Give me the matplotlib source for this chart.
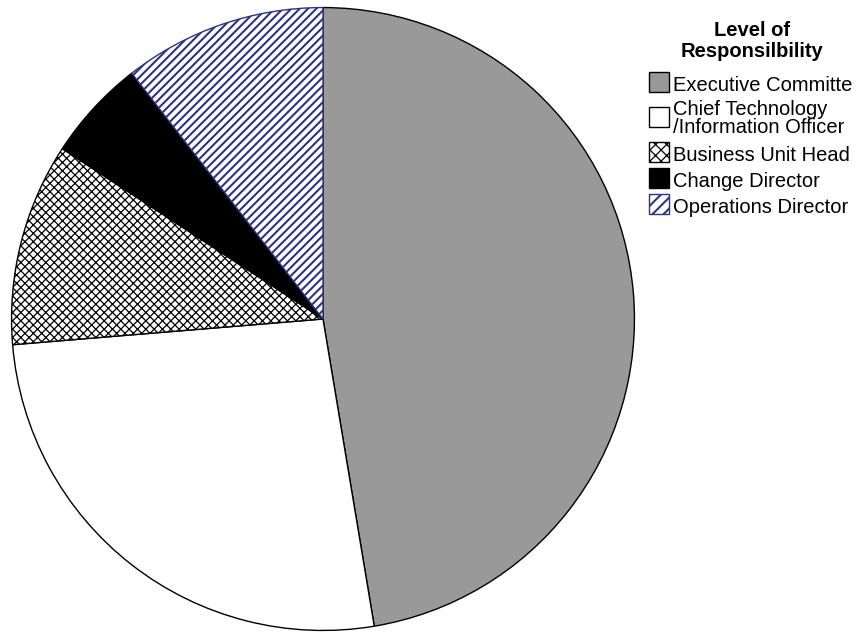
import matplotlib
matplotlib.use("Agg")
import matplotlib.pyplot as plt
from matplotlib.patches import Rectangle

plt.rcParams['font.family'] = ['Liberation Sans', 'DejaVu Sans']
plt.rcParams['hatch.linewidth'] = 1.3

labels = ["Executive Committe", "Chief Technology\n/Information Officer",
          "Business Unit Head", "Change Director", "Operations Director"]
values = [9, 5, 2, 1, 2]
facecolors = ["#999999", "#ffffff", "#ffffff", "#000000", "#ffffff"]
edgecolors = ["#000000", "#000000", "#000000", "#000000", "#2e3382"]
hatches = [None, None, "xxxx", None, "////"]
legend_hatches = [None, None, "xxx", None, "///"]
hatch_widths = [1.0, 1.0, 0.9, 1.0, 1.5]
title_lines = ["Level of", "Responsilbility"]

W, H = 858, 632
fig = plt.figure(figsize=(W / 100, H / 100), dpi=100)
cx, cy, r = 323, 319, 313
ax = fig.add_axes([(cx - r) / W, (H - cy - r) / H, 2 * r / W, 2 * r / H])


def style_hatch(patch, hatch, width):
    if hatch:
        patch.set_hatch(hatch)
        if hasattr(patch, "set_hatch_linewidth"):
            patch.set_hatch_linewidth(width)


wedges, _ = ax.pie(values, startangle=90, counterclock=False, radius=1,
                   colors=facecolors, wedgeprops=dict(linewidth=1.0))
for w, ec, h, hw in zip(wedges, edgecolors, hatches, hatch_widths):
    w.set_edgecolor(ec)
    style_hatch(w, h, hw)
ax.set_xlim(-1.005, 1.005)
ax.set_ylim(-1.005, 1.005)
ax.set_axis_off()


def fx(px):
    return px / W


def fy(py):
    return 1 - py / H


# legend title
fs = 14.5
fig.text(fx(752), fy(36), title_lines[0], ha="center", va="baseline",
         fontsize=fs, fontweight="bold")
fig.text(fx(752), fy(57), title_lines[1], ha="center", va="baseline",
         fontsize=fs, fontweight="bold")

# legend entries: (square top, baseline of last text line)
rows = [(72, 91), (107, 133), (142, 161), (168, 187), (194, 213)]
for (top, base), lab, fc, ec, h, hw in zip(rows, labels, facecolors, edgecolors,
                                           legend_hatches, hatch_widths):
    sq = Rectangle((fx(649), fy(top + 20)), 20 / W, 20 / H, transform=fig.transFigure,
                   facecolor=fc, edgecolor=ec, linewidth=1.0)
    style_hatch(sq, h, hw)
    fig.add_artist(sq)
    fig.text(fx(673), fy(base), lab, ha="left", va="baseline", fontsize=fs,
             linespacing=0.93)

fig.savefig("out.png", dpi=100)
